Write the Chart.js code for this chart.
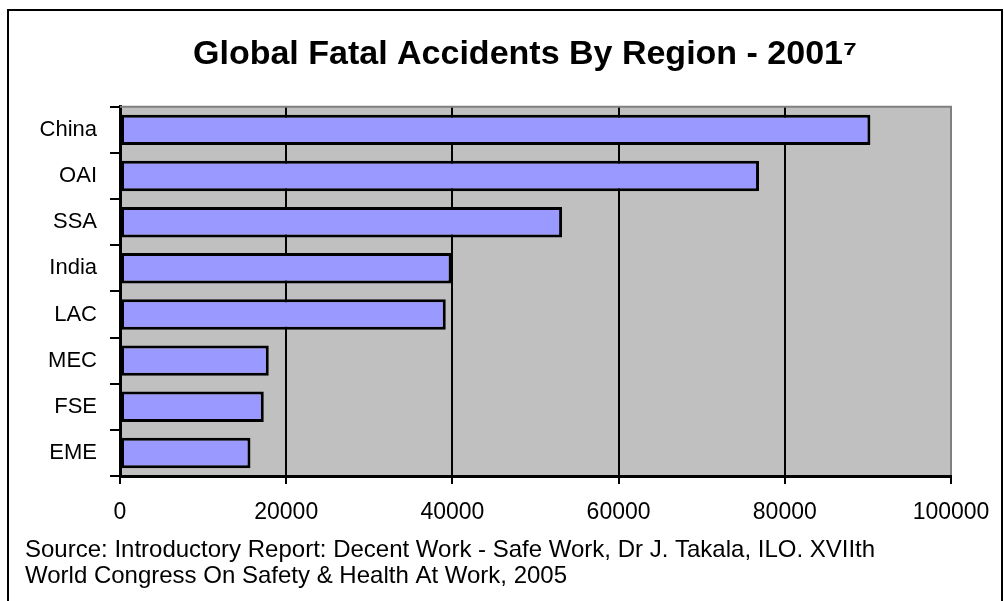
<!DOCTYPE html>
<html>
<head>
<meta charset="utf-8">
<script src="https://cdn.jsdelivr.net/npm/chart.js@4/dist/chart.umd.min.js"></script>
<style>
  body { margin: 0; background: #fff; }
  #wrap { position: relative; width: 1004px; height: 601px; }
</style>
</head>
<body>
<div id="wrap"><canvas id="regionChart"></canvas></div>
<script>
// data
const regions = ["China", "OAI", "SSA", "India", "LAC", "MEC", "FSE", "EME"];
const fatalities = [90300, 76900, 53200, 39900, 39200, 17900, 17300, 15700];
const xTicks = [0, 20000, 40000, 60000, 80000, 100000];
const chartTitle = "Global Fatal Accidents By Region - 2001\u2077";
const sourceLines = [
  "Source: Introductory Report: Decent Work - Safe Work, Dr J. Takala, ILO. XVIIth",
  "World Congress On Safety & Health At Work, 2005",
];

const barColor = "#9999FF";
const plotColor = "#C0C0C0";
const fontName = "'Liberation Sans', Arial, sans-serif";

// grey plot area + grey top edge, frame round the whole picture
const plotBg = {
  id: "plotBg",
  beforeDraw(chart) {
    const { ctx, chartArea: a } = chart;
    ctx.save();
    ctx.fillStyle = plotColor;
    ctx.fillRect(a.left, a.top, a.right - a.left, a.bottom - a.top);
    ctx.restore();
  },
  beforeDatasetsDraw(chart) {
    const { ctx, chartArea: a } = chart;
    ctx.save();
    ctx.strokeStyle = "#808080";
    ctx.lineWidth = 2;
    ctx.beginPath();
    ctx.moveTo(a.left, a.top);
    ctx.lineTo(a.right + 1, a.top);
    ctx.stroke();
    ctx.restore();
  },
  afterDraw(chart) {
    const ctx = chart.ctx;
    ctx.save();
    ctx.strokeStyle = "#000";
    ctx.lineWidth = 2;
    ctx.beginPath();
    ctx.moveTo(8, 605);
    ctx.lineTo(8, 10);
    ctx.lineTo(1002, 10);
    ctx.lineTo(1002, 605);
    ctx.stroke();
    ctx.restore();
  },
};

const ctx = document.getElementById("regionChart").getContext("2d");
const regionChart = new Chart(ctx, {
  type: "bar",
  data: {
    labels: regions,
    datasets: [
      {
        data: fatalities,
        backgroundColor: barColor,
        borderColor: "#000",
        borderWidth: 3,
        borderSkipped: false,
        barPercentage: 0.66,
        categoryPercentage: 1,
      },
    ],
  },
  options: {
    indexAxis: "y",
    responsive: true,
    maintainAspectRatio: false,
    animation: false,
    layout: { padding: { left: 25, right: -21, top: 10, bottom: 0 } },
    plugins: {
      legend: { display: false },
      tooltip: { enabled: false },
      title: {
        display: true,
        text: chartTitle,
        color: "#000",
        font: { family: fontName, size: 34, weight: "bold", lineHeight: 1.2 },
        padding: { top: 24, bottom: 32 },
      },
      subtitle: {
        display: true,
        position: "bottom",
        align: "start",
        text: sourceLines,
        color: "#000",
        font: { family: fontName, size: 24, lineHeight: 1.083 },
        padding: { top: 0, bottom: 12 },
      },
    },
    scales: {
      x: {
        min: 0,
        max: 100000,
        afterBuildTicks(scale) {
          scale.ticks = xTicks.map((v) => ({ value: v }));
        },
        afterFit(scale) {
          scale.height = 61;
          scale.paddingRight = 53;
        },
        grid: {
          color: (c) => (c.tick && c.tick.value === 100000 ? "#808080" : "#000"),
          tickColor: "#000",
          lineWidth: 2,
          tickLength: 8,
        },
        border: { color: "#000", width: 3 },
        ticks: {
          color: "#000",
          padding: 15,
          maxRotation: 0,
          font: { family: fontName, size: 23 },
          callback: (v) => String(v),
        },
      },
      y: {
        afterFit(scale) {
          scale.width = 95;
        },
        grid: {
          drawOnChartArea: false,
          color: "#000",
          lineWidth: 2,
          tickLength: 10,
          offset: true,
        },
        border: { color: "#000", width: 3 },
        ticks: {
          color: "#000",
          padding: 13,
          font: { family: fontName, size: 22 },
        },
      },
    },
  },
  plugins: [plotBg],
});
</script>
</body>
</html>
